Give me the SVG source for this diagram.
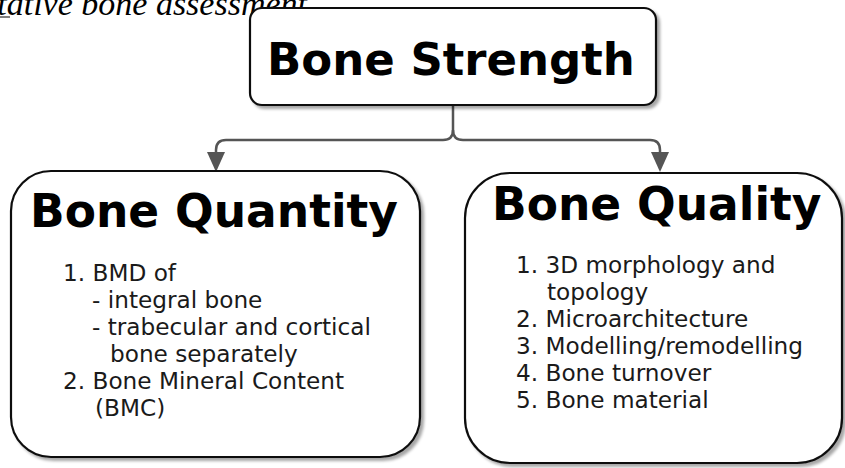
<svg xmlns="http://www.w3.org/2000/svg" width="845" height="468" viewBox="0 0 845 468">
<defs>
<style>
.box{fill:#fff;stroke:#111;stroke-width:2.2;}
.head{font-family:"DejaVu Sans",Verdana,sans-serif;font-weight:bold;fill:#000;}
.body{font-family:"DejaVu Sans",Verdana,sans-serif;font-size:23.2px;fill:#1a1a1a;}
.conn{fill:none;stroke:#555;stroke-width:2.5;}
.cap{font-family:"Liberation Serif","Times New Roman",serif;font-style:italic;font-size:34px;fill:#000;}
</style>
<filter id="sh" x="-10%" y="-10%" width="125%" height="125%">
<feGaussianBlur in="SourceAlpha" stdDeviation="1.5"/>
<feOffset dx="3" dy="3" result="b"/>
<feComponentTransfer><feFuncA type="linear" slope="0.35"/></feComponentTransfer>
<feMerge><feMergeNode/><feMergeNode in="SourceGraphic"/></feMerge>
</filter>
<marker id="arr" markerUnits="userSpaceOnUse" markerWidth="20" markerHeight="20" viewBox="0 0 20 20" refX="0" refY="10" orient="auto">
<path d="M0,1 L20,10 L0,19 Z" fill="#555"/>
</marker>
</defs>
<rect width="845" height="468" fill="#fff"/>
<g id="caption">
<text class="cap" x="307" y="15" text-anchor="end">tative bone assessment</text>
<line x1="0" y1="17" x2="10" y2="17" stroke="#000" stroke-width="1"/>
</g>
<g id="connectors">
<path class="conn" d="M453,105 V130 Q453,140 443,140 H226 Q216,140 216,150 V152" marker-end="url(#arr)"/>
<path class="conn" d="M453,130 Q453,140 463,140 H650 Q660,140 660,150 V152" marker-end="url(#arr)"/>
</g>
<g id="bone-strength">
<rect class="box" x="250" y="8" width="406" height="97" rx="12" filter="url(#sh)"/>
<text class="head" x="267" y="75" font-size="45">Bone Strength</text>
</g>
<g id="bone-quantity">
<rect class="box" x="11" y="171" width="409" height="286" rx="40" filter="url(#sh)"/>
<text class="head" x="30" y="227" font-size="45.5">Bone Quantity</text>
<text class="body" x="63" y="281">1. BMD of</text>
<text class="body" x="92" y="308">- integral bone</text>
<text class="body" x="92" y="335">- trabecular and cortical</text>
<text class="body" x="110" y="362">bone separately</text>
<text class="body" x="63" y="389">2. Bone Mineral Content</text>
<text class="body" x="95" y="416">(BMC)</text>
</g>
<g id="bone-quality">
<rect class="box" x="465" y="173" width="377" height="290" rx="45" filter="url(#sh)"/>
<text class="head" x="492" y="220" font-size="45.5">Bone Quality</text>
<text class="body" x="516" y="273">1. 3D morphology and</text>
<text class="body" x="547" y="300">topology</text>
<text class="body" x="516" y="327">2. Microarchitecture</text>
<text class="body" x="516" y="354">3. Modelling/remodelling</text>
<text class="body" x="516" y="381">4. Bone turnover</text>
<text class="body" x="516" y="408">5. Bone material</text>
</g>
</svg>
